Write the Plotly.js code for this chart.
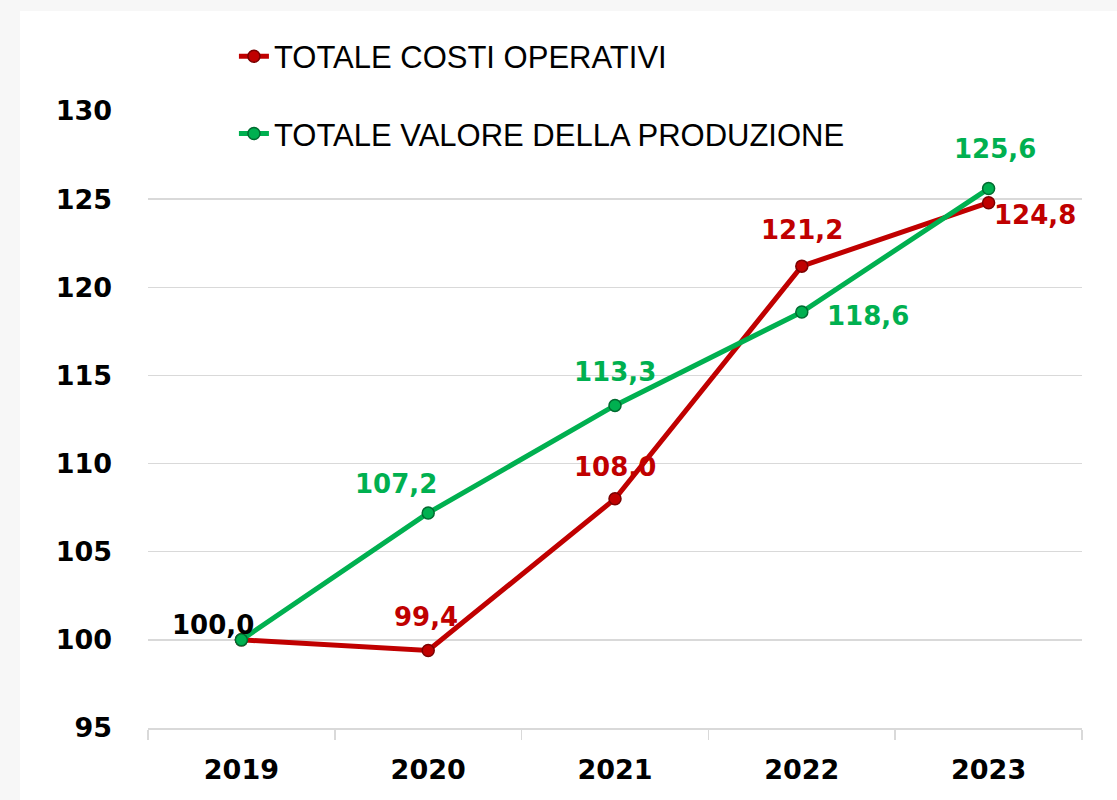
<!DOCTYPE html>
<html>
<head>
<meta charset="utf-8">
<script src="https://cdn.plot.ly/plotly-3.0.1.min.js"></script>
<style>
html,body{margin:0;padding:0;background:#f7f7f7;}
#chart{width:1117px;height:800px;}
</style>
</head>
<body>
<div id="chart"></div>
<script>
const years = ["2019", "2020", "2021", "2022", "2023"];
const costiName = "TOTALE COSTI OPERATIVI";
const costi = [100.0, 99.4, 108.0, 121.2, 124.8];
const valoreName = "TOTALE VALORE DELLA PRODUZIONE";
const valore = [100.0, 107.2, 113.3, 118.6, 125.6];
const yTicks = [95, 100, 105, 110, 115, 120, 125, 130];

const RED = "#C00000";
const GREEN = "#00B050";

// label offsets (pixels) per point: [xshift, yshift]
const costiOff = [null, [-2, 33], [0, 32], [0, 36], [46, -12]];
const valoreOff = [[-28, 15], [-32, 29], [0, 33], [66, -4], [6, 40]];

function fmt(v) { return v.toFixed(1).replace(".", ","); }

const traces = [
  {
    x: years, y: costi, name: costiName, type: "scatter", mode: "lines+markers",
    legendgroup: "a",
    line: {color: RED, width: 5},
    marker: {size: 12, color: RED, line: {color: "#7a0000", width: 1.5}},
    hoverinfo: "skip"
  },
  {
    x: years, y: valore, name: valoreName, type: "scatter", mode: "lines+markers",
    legendgroup: "b",
    line: {color: GREEN, width: 5},
    marker: {size: 12, color: GREEN, line: {color: "#006b30", width: 1.5}},
    hoverinfo: "skip"
  }
];

const annotations = [];
const labelFont = {family: "DejaVu Sans", size: 26};
costi.forEach((v, i) => {
  const o = costiOff[i];
  if (!o) return;
  annotations.push({x: i, y: v, xref: "x", yref: "y", text: "<b>" + fmt(v) + "</b>",
    showarrow: false, xanchor: "center", yanchor: "middle", xshift: o[0], yshift: o[1],
    font: Object.assign({color: RED}, labelFont)});
});
valore.forEach((v, i) => {
  const o = valoreOff[i];
  annotations.push({x: i, y: v, xref: "x", yref: "y", text: "<b>" + fmt(v) + "</b>",
    showarrow: false, xanchor: "center", yanchor: "middle", xshift: o[0], yshift: o[1],
    font: Object.assign({color: i === 0 ? "#000000" : GREEN}, labelFont)});
});

const layout = {
  width: 1117, height: 800,
  margin: {l: 148, r: 35, t: 111, b: 72, pad: 0},
  paper_bgcolor: "#f7f7f7",
  plot_bgcolor: "#ffffff",
  showlegend: true,
  legend: {
    x: 0.092, y: 1.132, xanchor: "left", yanchor: "top",
    bgcolor: "rgba(0,0,0,0)", borderwidth: 0,
    traceorder: "grouped", tracegroupgap: 34,
    font: {family: "Liberation Sans", size: 31, color: "#000000"}
  },
  xaxis: {
    type: "category", range: [-0.5, 4.5],
    showgrid: false, zeroline: false,
    showline: true, linecolor: "#d9d9d9", linewidth: 1.5,
    ticks: "outside", tickson: "boundaries", ticklen: 10, tickcolor: "#d9d9d9", tickwidth: 1.5,
    ticklabelstandoff: 17,
    tickfont: {family: "DejaVu Sans", size: 27, color: "#000000", weight: "bold"}
  },
  yaxis: {
    range: [95, 130], tickvals: yTicks, ticktext: yTicks.map(String),
    showgrid: true, gridcolor: "#d9d9d9", gridwidth: 1.5,
    zeroline: false, showline: false, ticks: "",
    ticklabelstandoff: 35,
    tickfont: {family: "DejaVu Sans", size: 27, color: "#000000", weight: "bold"}
  },
  shapes: [{
    type: "rect", xref: "paper", yref: "paper", layer: "below",
    x0: -0.137, x1: 1.05, y0: -0.13, y1: 1.162,
    fillcolor: "#ffffff", line: {width: 0}
  }],
  annotations: annotations
};

Plotly.newPlot("chart", traces, layout, {displayModeBar: false, staticPlot: true});
</script>
</body>
</html>
